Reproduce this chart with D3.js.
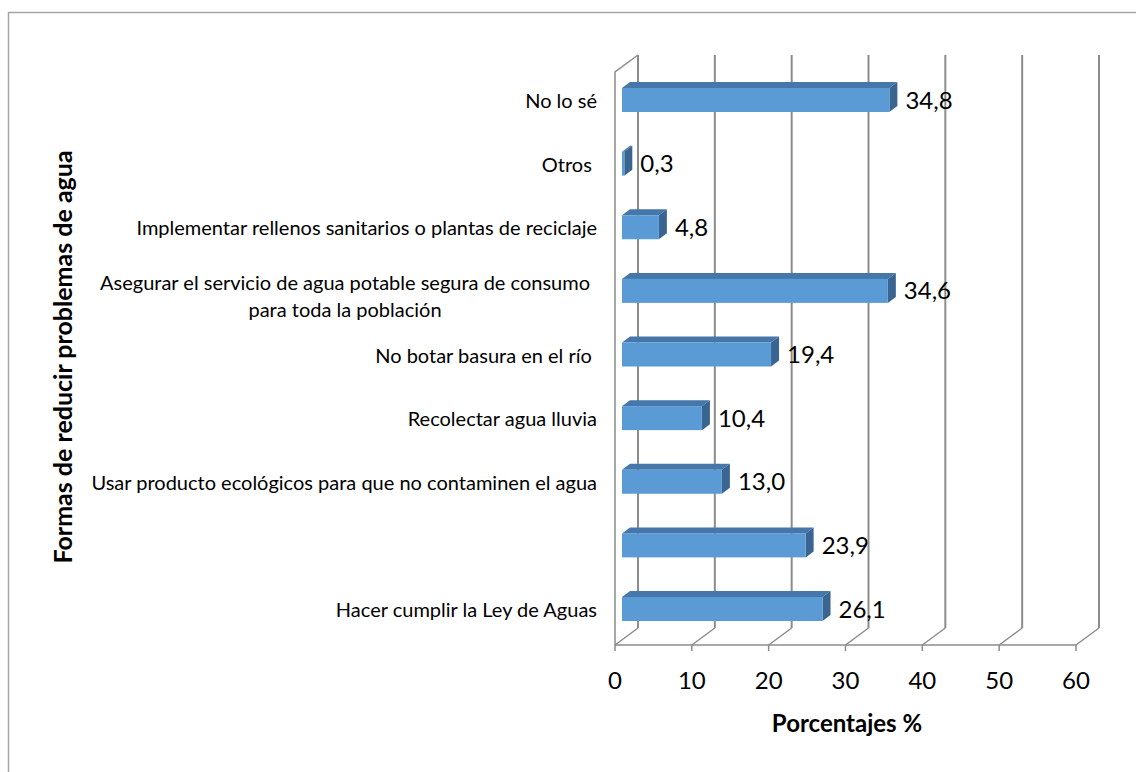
<!DOCTYPE html>
<html>
<head>
<meta charset="utf-8">
<script src="https://cdn.jsdelivr.net/npm/d3@7"></script>
<style>
  html, body { margin: 0; padding: 0; background: #fff; }
  svg { display: block; }
  text { font-family: Lato, "Open Sans", sans-serif; fill: #000; }
</style>
</head>
<body>
<svg id="chart" width="1136" height="772"></svg>
<script>
// ---- data (bottom to top order as read in the chart) ----
const categories = [
  "Hacer cumplir la Ley de Aguas",
  "",
  "Usar producto ecológicos para que no contaminen el agua",
  "Recolectar agua lluvia",
  "No botar basura en el río ",
  "Asegurar el servicio de agua potable segura de consumo\npara toda la población",
  "Implementar rellenos sanitarios o plantas de reciclaje",
  "Otros ",
  "No lo sé"
];
const values = [26.1, 23.9, 13.0, 10.4, 19.4, 34.6, 4.8, 0.3, 34.8];
const xTicks = [0, 10, 20, 30, 40, 50, 60];
const xTitle = "Porcentajes %";
const yTitle = "Formas de reducir problemas de agua";

// ---- layout ----
const svg = d3.select("#chart");
const W = 1136, H = 772;

const frontLeft = 615, frontRight = 1076;
const floorY = 645, topY = 72;
const depthX = 23, depthY = -17;      // back-wall offset
const barOffX = 7;                    // bar front plane offset from front plane
const barDX = 8, barDY = -6;          // bar depth
const barH = 24;

const x = d3.scaleLinear().domain([0, 60]).range([frontLeft, frontRight]);
const idx = d3.range(categories.length);
const y = d3.scalePoint().domain(idx.slice().reverse()).range([100, 609]);

const grid = "#8c8c8c";

// outer border
svg.append("path")
  .attr("d", `M8.5,${H} V12.5 H${W}`)
  .attr("fill", "none").attr("stroke", "#a6a6a6").attr("stroke-width", 1.5);

const g = svg.append("g");

// back wall gridlines
g.selectAll("line.back").data(xTicks).join("line")
  .attr("x1", d => x(d) + depthX).attr("x2", d => x(d) + depthX)
  .attr("y1", topY + depthY).attr("y2", floorY + depthY)
  .attr("stroke", grid).attr("stroke-width", 2);

// floor slants
g.selectAll("line.floor").data(xTicks).join("line")
  .attr("x1", d => x(d)).attr("y1", floorY)
  .attr("x2", d => x(d) + depthX).attr("y2", floorY + depthY)
  .attr("stroke", grid).attr("stroke-width", 1.5);

// floor front edge
g.append("line")
  .attr("x1", x(0)).attr("x2", x(60)).attr("y1", floorY).attr("y2", floorY)
  .attr("stroke", grid).attr("stroke-width", 1.5);

// left wall front vertical + top slant
g.append("path")
  .attr("d", `M${x(0)},${floorY} V${topY} L${x(0) + depthX},${topY + depthY}`)
  .attr("fill", "none").attr("stroke", grid).attr("stroke-width", 1.5);

// ticks
g.selectAll("line.tick").data(xTicks).join("line")
  .attr("x1", d => x(d)).attr("x2", d => x(d))
  .attr("y1", floorY).attr("y2", floorY + 6)
  .attr("stroke", grid).attr("stroke-width", 1.5);

// tick labels
g.selectAll("text.tick").data(xTicks).join("text")
  .attr("x", d => x(d)).attr("y", 679)
  .attr("text-anchor", "middle").attr("dominant-baseline", "central")
  .style("font-size", "24px")
  .text(d => d);

// bars
const bx = v => x(v) + barOffX;
const bars = g.selectAll("g.bar").data(idx).join("g");

bars.each(function(i) {
  const gg = d3.select(this);
  const c = y(i);
  const x0 = bx(0), x1 = bx(values[i]);
  const t = c - barH / 2, b = c + barH / 2;
  gg.append("path")
    .attr("d", `M${x0},${t} L${x0 + barDX},${t + barDY} L${x1 + barDX},${t + barDY} L${x1},${t} Z`)
    .attr("fill", "#4677aa");
  gg.append("path")
    .attr("d", `M${x1},${t} L${x1 + barDX},${t + barDY} L${x1 + barDX},${b + barDY} L${x1},${b} Z`)
    .attr("fill", "#3a6591");
  gg.append("rect")
    .attr("x", x0).attr("y", t).attr("width", Math.max(0.8, x1 - x0)).attr("height", barH)
    .attr("fill", "#5b9bd5");
});

// value labels
const fmt = v => d3.format(".1f")(v).replace(".", ",");
g.selectAll("text.val").data(idx).join("text")
  .attr("x", i => bx(values[i]) + barDX + 8)
  .attr("y", i => y(i) - 1)
  .attr("dominant-baseline", "central")
  .style("font-size", "24px")
  .text(i => fmt(values[i]));

// category labels
const catRight = 597;
const catSize = "20px";
idx.forEach(i => {
  const lines = categories[i].split("\n");
  const c = y(i);
  const lh = 27;
  const t = g.append("text")
    .attr("text-anchor", lines.length > 1 ? "middle" : "end")
    .style("font-size", catSize)
    .style("white-space", "pre");
  if (lines.length === 1) {
    t.attr("x", catRight).attr("y", c).attr("dominant-baseline", "central").text(lines[0]);
  } else {
    const tmp = g.append("text").style("font-size", catSize).text(lines[0]);
    const w = tmp.node().getComputedTextLength();
    tmp.remove();
    const cx = catRight - 7 - w / 2;
    lines.forEach((ln, k) => {
      t.append("tspan")
        .attr("x", cx)
        .attr("y", c + 5 + (k - (lines.length - 1) / 2) * lh)
        .attr("dominant-baseline", "central")
        .text(ln);
    });
  }
});

// axis titles
svg.append("text")
  .attr("x", 847).attr("y", 722)
  .attr("text-anchor", "middle").attr("dominant-baseline", "central")
  .style("font-size", "24px").style("font-weight", "bold")
  .text(xTitle);

svg.append("text")
  .attr("transform", "translate(62,357) rotate(-90)")
  .attr("text-anchor", "middle").attr("dominant-baseline", "central")
  .style("font-size", "25px").style("font-weight", "bold")
  .text(yTitle);
</script>
</body>
</html>
